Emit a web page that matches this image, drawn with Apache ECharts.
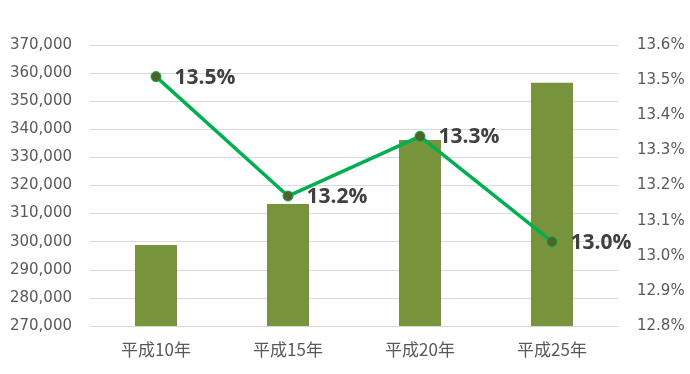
<!DOCTYPE html>
<html><head><meta charset="utf-8">
<script src="https://cdn.jsdelivr.net/npm/echarts@6/dist/echarts.min.js"></script>
<style>html,body{margin:0;padding:0;background:#fff}#c{width:690px;height:374px}</style>
</head><body><div id="c"></div>
<script>
const categories = ['平成10年', '平成15年', '平成20年', '平成25年'];
const barValues = [298800, 313400, 336200, 356600];
const rateValues = [13.51, 13.17, 13.34, 13.04];

const chart = echarts.init(document.getElementById('c'));
const cjk = '"Noto Sans CJK JP", "Noto Sans", sans-serif';
const num = '"DejaVu Sans", sans-serif';
chart.setOption({
  animation: false,
  textStyle: { fontFamily: cjk },
  grid: { left: 90, right: 72, top: 45, bottom: 48 },
  xAxis: {
    type: 'category', data: categories,
    axisLine: { show: true, lineStyle: { color: '#d9d9d9' } },
    axisTick: { show: false },
    axisLabel: { color: '#595959', fontSize: 17, margin: 15, fontFamily: cjk }
  },
  yAxis: [{
    type: 'value', min: 270000, max: 370000, interval: 10000,
    axisLine: { show: false }, axisTick: { show: false },
    splitLine: { lineStyle: { color: '#d9d9d9', width: 1 } },
    axisLabel: { color: '#595959', fontSize: 15, margin: 18, fontFamily: num,
      formatter: v => v.toLocaleString('en-US') }
  }, {
    type: 'value', min: 12.8, max: 13.6, interval: 0.1,
    axisLine: { show: false }, axisTick: { show: false }, splitLine: { show: false },
    axisLabel: { color: '#595959', fontSize: 15, margin: 19, fontFamily: num,
      formatter: v => v.toFixed(1) + '%' }
  }],
  series: [{
    type: 'bar', data: barValues, barWidth: 42,
    itemStyle: { color: '#77933c' }
  }, {
    type: 'line', yAxisIndex: 1, data: rateValues,
    symbol: 'circle', symbolSize: 10,
    lineStyle: { color: '#00b050', width: 3.5 },
    itemStyle: { color: '#4f6228', borderColor: '#00b050', borderWidth: 1 },
    label: { show: true, position: 'right', distance: 13, offset: [0, 1], color: '#404040',
      fontSize: 21, fontWeight: 'bold', fontFamily: '"Open Sans", sans-serif',
      formatter: p => p.value.toFixed(1) + '%' }
  }]
});
</script></body></html>
